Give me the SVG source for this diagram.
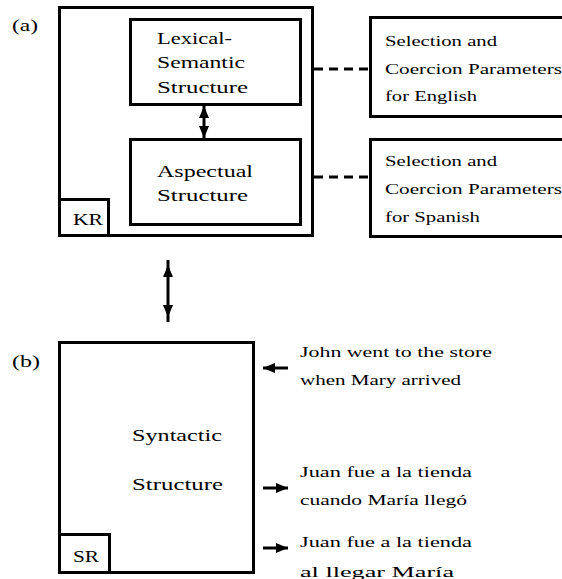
<svg xmlns="http://www.w3.org/2000/svg" width="562" height="579" viewBox="0 0 562 579" font-family="'Liberation Serif', 'DejaVu Serif', serif">
<defs>
<style>
.box{fill:#fff;stroke:#000;stroke-width:3}
.big{font-size:17px;fill:#000}
.sm{font-size:14px;fill:#000}
.ln{stroke:#000;stroke-width:3;fill:none}
.dash{stroke:#000;stroke-width:3;stroke-dasharray:9 6;fill:none}
</style>
<marker id="ah" markerUnits="userSpaceOnUse" markerWidth="12" markerHeight="10" refX="12" refY="5" orient="auto-start-reverse" viewBox="0 0 12 10">
<path d="M0,0 L12,5 L0,10 z" fill="#000"/>
</marker>
<marker id="ahs" markerUnits="userSpaceOnUse" markerWidth="12" markerHeight="10" refX="17" refY="5" orient="auto-start-reverse" viewBox="0 0 12 10">
<path d="M0,0 L12,5 L0,10 z" fill="#000"/>
</marker>
</defs>
<rect width="562" height="579" fill="#fff"/>
<text class="big" x="12" y="31" textLength="26" lengthAdjust="spacingAndGlyphs">(a)</text>
<text class="big" x="12" y="367" textLength="28" lengthAdjust="spacingAndGlyphs">(b)</text>
<g id="kr-outer">
<rect class="box" x="59.5" y="7.5" width="253" height="228"/>
</g>
<g id="lexical">
<rect class="box" x="130.5" y="19.5" width="170" height="85"/>
<text class="big" x="157" y="44" textLength="75" lengthAdjust="spacingAndGlyphs">Lexical-</text>
<text class="big" x="157" y="68" textLength="88" lengthAdjust="spacingAndGlyphs">Semantic</text>
<text class="big" x="157" y="93" textLength="91" lengthAdjust="spacingAndGlyphs">Structure</text>
</g>
<g id="aspectual">
<rect class="box" x="130.5" y="139.5" width="170" height="85"/>
<text class="big" x="157" y="177" textLength="96" lengthAdjust="spacingAndGlyphs">Aspectual</text>
<text class="big" x="157" y="201" textLength="91" lengthAdjust="spacingAndGlyphs">Structure</text>
</g>
<g id="kr">
<rect class="box" x="59.5" y="199.5" width="49" height="36"/>
<text class="big" x="73" y="225" textLength="30" lengthAdjust="spacingAndGlyphs">KR</text>
</g>
<g id="english">
<rect class="box" x="370.5" y="17.5" width="200" height="99"/>
<text class="sm" x="385" y="46" textLength="112" lengthAdjust="spacingAndGlyphs">Selection and</text>
<text class="sm" x="385" y="74" textLength="177" lengthAdjust="spacingAndGlyphs">Coercion Parameters</text>
<text class="sm" x="385" y="101" textLength="92" lengthAdjust="spacingAndGlyphs">for English</text>
</g>
<g id="spanish">
<rect class="box" x="370.5" y="139.5" width="200" height="97"/>
<text class="sm" x="385" y="166" textLength="112" lengthAdjust="spacingAndGlyphs">Selection and</text>
<text class="sm" x="385" y="194" textLength="177" lengthAdjust="spacingAndGlyphs">Coercion Parameters</text>
<text class="sm" x="385" y="222" textLength="95" lengthAdjust="spacingAndGlyphs">for Spanish</text>
</g>
<g id="syntactic">
<rect class="box" x="59.5" y="342.5" width="194" height="230"/>
<text class="big" x="132" y="441" textLength="90" lengthAdjust="spacingAndGlyphs">Syntactic</text>
<text class="big" x="132" y="490" textLength="91" lengthAdjust="spacingAndGlyphs">Structure</text>
</g>
<g id="sr">
<rect class="box" x="59.5" y="534.5" width="50" height="38"/>
<text class="big" x="73" y="562" textLength="26" lengthAdjust="spacingAndGlyphs">SR</text>
</g>
<g id="sentences">
<text class="sm" x="300" y="357" textLength="192" lengthAdjust="spacingAndGlyphs">John went to the store</text>
<text class="sm" x="300" y="385" textLength="161" lengthAdjust="spacingAndGlyphs">when Mary arrived</text>
<text class="sm" x="300" y="477" textLength="172" lengthAdjust="spacingAndGlyphs">Juan fue a la tienda</text>
<text class="sm" x="300" y="505" textLength="167" lengthAdjust="spacingAndGlyphs">cuando María llegó</text>
<text class="sm" x="300" y="547" textLength="172" lengthAdjust="spacingAndGlyphs">Juan fue a la tienda</text>
<text class="sm" x="300" y="577" textLength="154" lengthAdjust="spacingAndGlyphs">al llegar María</text>
</g>
<g id="connectors">
<line class="ln" x1="204" y1="106" x2="204" y2="138" marker-start="url(#ah)" marker-end="url(#ah)"/>
<line class="dash" x1="314" y1="69" x2="370" y2="69"/>
<line class="dash" x1="314" y1="177" x2="370" y2="177"/>
<line class="ln" x1="168" y1="260" x2="168" y2="322" marker-start="url(#ahs)" marker-end="url(#ahs)"/>
<line class="ln" x1="288" y1="368" x2="263" y2="368" marker-end="url(#ah)"/>
<line class="ln" x1="263" y1="488" x2="288" y2="488" marker-end="url(#ah)"/>
<line class="ln" x1="263" y1="548" x2="288" y2="548" marker-end="url(#ah)"/>
</g>
</svg>
